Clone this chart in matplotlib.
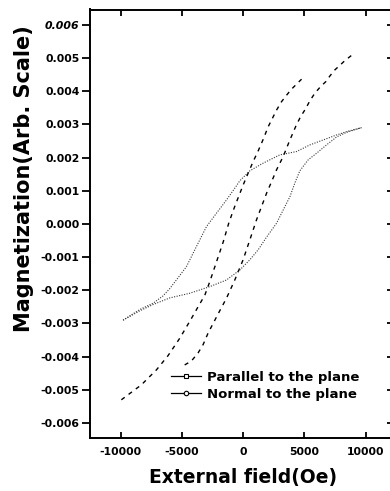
import matplotlib
matplotlib.use("Agg")
import matplotlib.pyplot as plt
from matplotlib.lines import Line2D
from matplotlib.ticker import FixedLocator, FuncFormatter

# Parallel to the plane: two steep branches (field in Oe, magnetization in 1e-3 arb.)
par_a_field = [-9940, -8310, -7080, -6130, -5180, -4300, -3680, -3130, -2730, -2180,
               -1630, -1150, -660, 0, 410, 820, 1230, 1640, 2050, 2730, 3130, 3550,
               3950, 4770]
par_a_mag = [-5.30, -4.85, -4.40, -3.97, -3.45, -2.90, -2.50, -2.15, -1.75, -1.15,
             -0.55, 0.05, 0.55, 1.17, 1.53, 1.88, 2.20, 2.55, 2.93, 3.43, 3.68, 3.88,
             4.06, 4.36]
par_b_field = [-4770, -4220, -3680, -3270, -2860, -2450, -1910, -1360, -680, 0, 550,
               1090, 1500, 1910, 2320, 2730, 3270, 3820, 4310, 4690, 5120, 5450, 5860,
               6330, 6760, 7090, 7490, 8310, 9130]
par_b_mag = [-4.25, -4.13, -3.89, -3.64, -3.29, -3.00, -2.62, -2.24, -1.69, -1.08,
             -0.48, 0.12, 0.52, 0.92, 1.27, 1.63, 2.03, 2.53, 2.95, 3.23, 3.48, 3.71,
             3.94, 4.14, 4.29, 4.46, 4.64, 4.92, 5.16]

# Normal to the plane: hysteresis loop
nor_up_field = [9670, 8450, 7630, 6540, 5450, 4360, 3000, 1630, 550, -270, -540,
                -1360, -2180, -2990, -3810, -4630, -5450, -5990, -6540, -7350, -8440,
                -9800]
nor_up_mag = [2.90, 2.78, 2.68, 2.53, 2.38, 2.18, 2.08, 1.83, 1.60, 1.30, 1.15,
              0.72, 0.32, -0.08, -0.68, -1.29, -1.69, -1.95, -2.17, -2.39, -2.58,
              -2.90]
nor_lo_field = [-9800, -8440, -7350, -5990, -4360, -2720, -1360, -270, 550, 1230,
                1910, 2730, 3270, 3820, 4220, 4630, 5310, 6000, 6810, 7630, 8450, 9670]
nor_lo_mag = [-2.90, -2.62, -2.43, -2.23, -2.09, -1.89, -1.69, -1.39, -1.08, -0.78,
              -0.40, 0.02, 0.42, 0.82, 1.23, 1.60, 1.93, 2.13, 2.38, 2.62, 2.76, 2.90]

x_ticks = [-10000, -5000, 0, 5000, 10000]
y_ticks = [-0.006, -0.005, -0.004, -0.003, -0.002, -0.001, 0.0, 0.001, 0.002, 0.003,
           0.004, 0.005, 0.006]
legend_labels = ["Parallel to the plane", "Normal to the plane"]
x_label = "External field(Oe)"
y_label = "Magnetization(Arb. Scale)"

W, H = 390, 491
fig = plt.figure(figsize=(W / 100, H / 100), dpi=100)
ax = fig.add_axes([90 / W, 1 - 438.3 / H, 299.5 / W, (438.3 - 9.5) / H])

def s(v):
    return [m * 1e-3 for m in v]

ax.plot(par_a_field, s(par_a_mag), color="black", lw=1.0, dashes=(3, 3.5))
ax.plot(par_b_field, s(par_b_mag), color="black", lw=1.0, dashes=(3, 3.5))
ax.plot(nor_up_field, s(nor_up_mag), color="#3a3a3a", lw=0.8, dashes=(1, 1.3))
ax.plot(nor_lo_field, s(nor_lo_mag), color="#3a3a3a", lw=0.8, dashes=(1, 1.3))

ax.set_xlim(-12500, 11950)
ax.set_ylim(-0.00646, 0.00646)

tick_font = dict(family="DejaVu Sans", weight="bold", size=7.8)
ax.xaxis.set_major_locator(FixedLocator(x_ticks))
ax.yaxis.set_major_locator(FixedLocator(y_ticks))
ax.xaxis.set_major_formatter(FuncFormatter(lambda v, p: "%d" % v))
ax.yaxis.set_major_formatter(FuncFormatter(lambda v, p: ("%.3f" % v).replace("-0.000", "0.000")))
for lab in ax.get_xticklabels() + ax.get_yticklabels():
    lab.set_fontproperties(matplotlib.font_manager.FontProperties(**tick_font))
ax.tick_params(axis="y", which="major", direction="out", length=6, width=1.3, pad=1.5,
               right=True, labelright=False)
ax.tick_params(axis="x", which="major", direction="in", length=4, width=1.3, pad=6,
               top=True)
for side in ["left", "bottom", "top", "right"]:
    ax.spines[side].set_linewidth(1.4)
ax.spines["right"].set_visible(False)

# right-side ticks drawn inward
for t in ax.yaxis.get_major_ticks():
    t.tick2line.set_marker(matplotlib.markers.TICKLEFT)
    t.tick2line.set_markersize(2)
ax.get_yticklabels()[-1].set_fontstyle("italic")

fig.text(243 / W, 1 - 477 / H, x_label, ha="center", va="center",
         family="DejaVu Sans", weight="bold", size=13.5)
fig.text(24 / W, 1 - 179 / H, y_label, ha="center", va="center", rotation=90,
         family="DejaVu Sans", weight="bold", size=15)

handles = [
    Line2D([], [], color="black", lw=0.9, marker="s", ms=3.2, mfc="white", mec="black", mew=0.8),
    Line2D([], [], color="black", lw=0.9, marker="o", ms=3.2, mfc="white", mec="black", mew=0.8),
]
ax.legend(handles, legend_labels, loc="upper left", frameon=False,
          bbox_to_anchor=(171 / W, 1 - 371 / H), bbox_transform=fig.transFigure,
          prop=dict(family="DejaVu Sans", weight="bold", size=9.5),
          handlelength=2.3, handletextpad=0.4, labelspacing=0.3,
          borderpad=0, borderaxespad=0)

fig.savefig("out.png", dpi=100)
